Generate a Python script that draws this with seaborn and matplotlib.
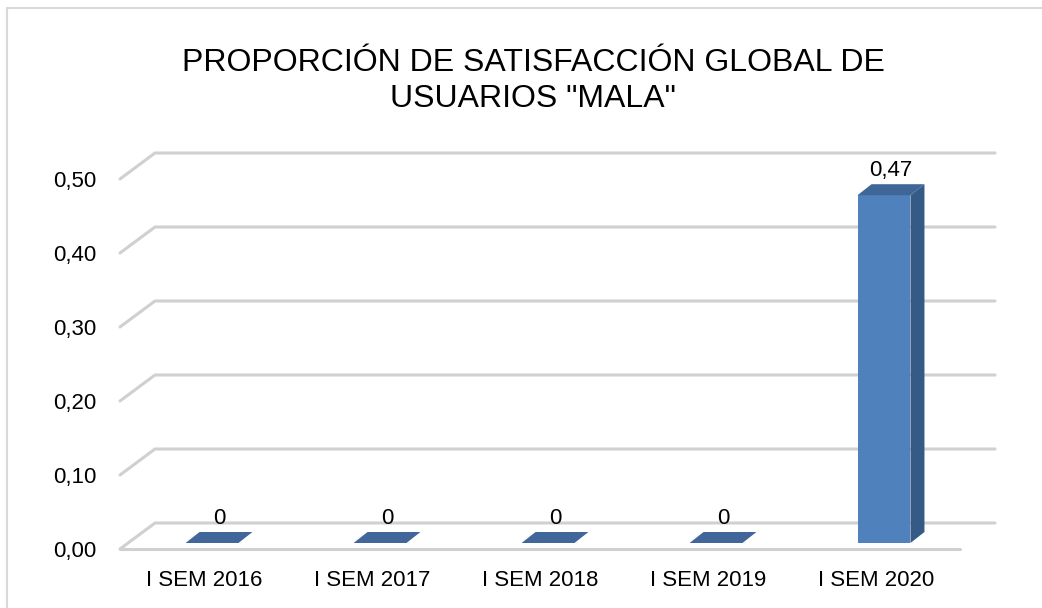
import matplotlib
matplotlib.use("Agg")
import matplotlib.pyplot as plt
import matplotlib.font_manager as fm
from matplotlib.patches import Polygon
import seaborn as sns
import pandas as pd
import numpy as np

categories = ["I SEM 2016", "I SEM 2017", "I SEM 2018", "I SEM 2019", "I SEM 2020"]
values = [0, 0, 0, 0, 0.47]
value_labels = ["0", "0", "0", "0", "0,47"]
yticks = [0.0, 0.1, 0.2, 0.3, 0.4, 0.5]
ytick_labels = ["0,00", "0,10", "0,20", "0,30", "0,40", "0,50"]
title = 'PROPORCIÓN DE SATISFACCIÓN GLOBAL DE\nUSUARIOS "MALA"'

sns.set_theme(style="white")
names = {f.name for f in fm.fontManager.ttflist}
title_family = ["Liberation Sans Narrow", "Liberation Sans", "DejaVu Sans"]
title_family = [f for f in title_family if f in names] or ["DejaVu Sans"]
plt.rcParams["font.family"] = ["Liberation Sans", "DejaVu Sans"]

W, H = 1042, 608
fig = plt.figure(figsize=(W / 100, H / 100), dpi=100)
ax = fig.add_axes([120 / W, (H - 549) / H, 840 / W, 370 / H])

df = pd.DataFrame({"cat": categories, "val": values})
sns.barplot(data=df, x="cat", y="val", color="#4F81BD", width=0.315,
            saturation=1, ax=ax, zorder=3)
ax.set_xlim(-0.5, 4.5)
ax.set_ylim(0, 0.5)
for s in ax.spines.values():
    s.set_visible(False)
ax.set_xlabel("")
ax.set_ylabel("")
ax.set_yticks(yticks)
ax.set_yticklabels(ytick_labels)
ax.tick_params(axis="y", length=0, pad=17, labelsize=16, labelcolor="#000000")
ax.tick_params(axis="x", length=0, pad=15, labelsize=16, labelcolor="#000000")

fig.canvas.draw()

def pt(x, y, dx, dy):
    p = ax.transData.transform((x, y))
    return ax.transData.inverted().transform(p + np.array([dx, dy]))

FD = (35, 26)      # floor depth in pixels
BF = (8, 6)        # bar front offset
BB = (22, 17)      # bar back offset
grid_c = "#D0D0D0"
x0, x1 = ax.get_xlim()

# back wall gridlines with oblique left edge
for t in yticks:
    a = pt(x0, t, 0, 0)
    b = pt(x0, t, *FD)
    c = pt(x1, t, *FD)
    ax.plot([a[0], b[0], c[0]], [a[1], b[1], c[1]], color=grid_c, lw=2.2,
            solid_capstyle="round", clip_on=False, zorder=1)
# floor front edge
a = pt(x0, 0, 0, 0)
c = pt(x1, 0, 0, 0)
ax.plot([a[0], c[0]], [a[1], c[1]], color=grid_c, lw=2.2,
        solid_capstyle="round", clip_on=False, zorder=2)

# bars: shift front faces, add side and top faces
for p in ax.patches:
    xl = p.get_x()
    w = p.get_width()
    v = p.get_height()
    xr = xl + w
    f0 = pt(xl, 0, *BF)
    f1 = pt(xr, v, *BF)
    p.set_x(f0[0])
    p.set_y(f0[1])
    p.set_width(f1[0] - f0[0])
    p.set_height(f1[1] - f0[1])
    p.set_edgecolor("none")
    p.set_clip_on(False)
    if v > 0:
        side = [pt(xr, 0, *BF), pt(xr, v, *BF), pt(xr, v, *BB), pt(xr, 0, *BB)]
        ax.add_patch(Polygon(side, closed=True, facecolor="#355A85",
                             edgecolor="none", zorder=3, clip_on=False))
        topc = "#3E6798"
    else:
        topc = "#41679A"
    top = [pt(xl, v, *BF), pt(xr, v, *BF), pt(xr, v, *BB), pt(xl, v, *BB)]
    ax.add_patch(Polygon(top, closed=True, facecolor=topc,
                         edgecolor="none", zorder=4, clip_on=False))

# data labels
for i, (v, lab) in enumerate(zip(values, value_labels)):
    c = pt(i, v, 15, 17)
    ax.annotate(lab, xy=(c[0], c[1]), xytext=(0, 2), textcoords="offset points",
                ha="center", va="bottom", fontsize=16, color="#000000",
                annotation_clip=False, zorder=6)

fig.text(533 / W, 1 - 81 / H, title, ha="center", va="center",
         fontsize=23, family=title_family, color="#000000", linespacing=1.25)

# chart area border (top and left edges)
fig.add_artist(plt.Line2D([7 / W, 1], [1 - 8 / H, 1 - 8 / H], color="#D9D9D9", lw=1.5,
                          transform=fig.transFigure))
fig.add_artist(plt.Line2D([7 / W, 7 / W], [0, 1 - 8 / H], color="#D9D9D9", lw=1.5,
                          transform=fig.transFigure))

fig.savefig("out.png", dpi=100)
